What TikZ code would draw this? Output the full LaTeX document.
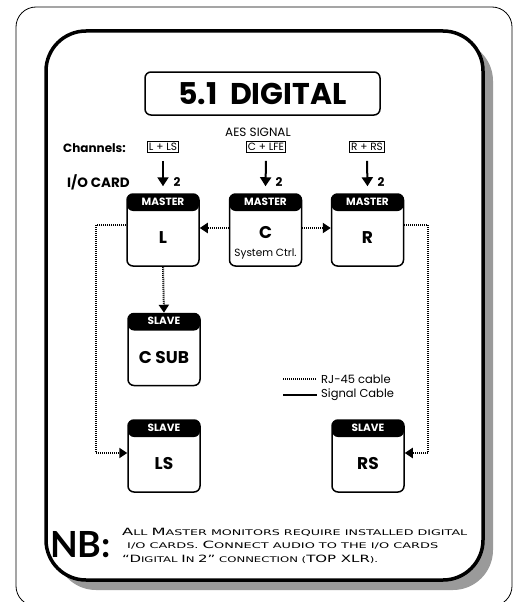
\documentclass[tikz,border=0pt]{standalone}
\usepackage{fontspec}
\usepackage{graphicx}
\setmainfont{Poppins}
\newfontfamily\nbfont{Lato}
\newfontfamily\capfont{DejaVu Sans}
\usetikzlibrary{arrows.meta,calc}
\definecolor{shadowgray}{HTML}{9A9A9A}
\newcommand{\BC}[1]{{\fontsize{10}{10}\selectfont #1}}
\begin{document}
\begin{tikzpicture}[x=1pt,y=-1pt,
  mbox/.style={draw, line width=1.5pt, rounded corners=6pt, minimum width=72pt, minimum height=72pt, inner sep=0pt,
    path picture={\fill[black] (path picture bounding box.north west) rectangle ([yshift=-17pt]path picture bounding box.north east);}},
  htxt/.style={text=white, font=\bfseries\fontsize{10.5}{11}\selectfont, inner sep=0pt},
  btxt/.style={font=\bfseries\fontsize{17}{18}\selectfont, inner sep=0pt},
  chbox/.style={draw, line width=1.1pt, inner sep=1.5pt, font=\fontsize{10.5}{11}\selectfont},
  sig/.style={line width=2pt, -{Triangle[length=9pt,width=11pt]}},
  rj/.style={line width=2pt, dash pattern=on 1pt off 1pt, -{Triangle[length=8pt,width=10pt]}},
  lbl/.style={font=\bfseries\fontsize{12}{13}\selectfont, inner sep=0pt},
  capline/.style={anchor=base west, inner sep=0pt, font=\capfont\fontsize{7.8}{8}\selectfont}
]
\useasboundingbox (0,0) rectangle (519,602);
% outer frame
\draw[line width=0.8pt, rounded corners=20pt] (16,7) rectangle (512,606);
% shadow and inner frame
\fill[shadowgray, rounded corners=40pt] (56,41) rectangle (493,590);
\draw[line width=3.5pt, fill=white, rounded corners=40pt] (46,31) rectangle (483,580);

% title
\node[draw, line width=1.5pt, rounded corners=6pt, minimum width=235pt, minimum height=43pt, inner sep=0pt] (title) at (262.5,93.5)
  {\fontsize{30}{32}\selectfont\bfseries 5.1\hspace{6pt} DIGITAL};
\node[inner sep=0pt, font=\fontsize{12}{12}\selectfont] (aes) at (258,132) {AES SIGNAL};

% channels
\node[lbl, anchor=west] (chan) at (63,148) {Channels:};
\node[chbox] (chL) at (163,147) {L + LS};
\node[chbox] (chC) at (266,147) {C + LFE};
\node[chbox] (chR) at (367,147) {R + RS};
\node[lbl, anchor=west, font=\bfseries\fontsize{13.5}{14}\selectfont] (io) at (67,182) {I/O CARD};

% master boxes
\node[mbox] (L) at (163,230) {};
\node[mbox] (C) at (265.5,230) {};
\node[mbox] (R) at (367.5,230) {};
\node[htxt] (Lh) at ([yshift=-8.5pt]L.north) {MASTER};
\node[htxt] (Ch) at ([yshift=-8.5pt]C.north) {MASTER};
\node[htxt] (Rh) at ([yshift=-8.5pt]R.north) {MASTER};
\node[btxt] (Lt) at ([yshift=-8pt]L.center) {L};
\node[btxt] (Ct) at ([yshift=-3pt]C.center) {C};
\node[inner sep=0pt, font=\fontsize{10.5}{11}\selectfont] (Cs) at ([yshift=-24pt]C.center) {System Ctrl.};
\node[btxt] (Rt) at ([yshift=-8pt]R.center) {R};

% slave boxes
\node[mbox] (S) at (164,349.5) {};
\node[mbox] (LS) at (164,456) {};
\node[mbox] (RS) at (368,456) {};
\node[htxt] (Sh) at ([yshift=-8.5pt]S.north) {SLAVE};
\node[htxt] (LSh) at ([yshift=-8.5pt]LS.north) {SLAVE};
\node[htxt] (RSh) at ([yshift=-8.5pt]RS.north) {SLAVE};
\node[btxt] (St) at ([yshift=-8pt]S.center) {C SUB};
\node[btxt] (LSt) at ([yshift=-8pt]LS.center) {LS};
\node[btxt] (RSt) at ([yshift=-8pt]RS.center) {RS};

% signal arrows
\draw[sig] ([yshift=-8pt]chL.south) -- ([yshift=7pt]L.north);
\draw[sig] ([yshift=-8pt]chC.south) -- ([yshift=7pt]C.north);
\draw[sig] ([yshift=-8pt]chR.south) -- ([yshift=7pt]R.north);
\node[lbl] (n1) at (177,182) {2};
\node[lbl] (n2) at (279,182) {2};
\node[lbl] (n3) at (381,182) {2};

% RJ-45 connections
\draw[rj] ([yshift=2pt]C.west) -- ([yshift=2pt]L.east);
\draw[rj] ([yshift=2pt]C.east) -- ([yshift=2pt]R.west);
\draw[rj] (L.south) -- (S.north);
\draw[rj] ([yshift=5pt]L.west) -- ++(-30,0) |- ([yshift=3pt]LS.west);
\draw[rj] ([yshift=5pt]R.east) -- ++(24,0) |- ([yshift=3pt]RS.east);

% legend
\coordinate (lg1a) at (283,379);
\coordinate (lg1b) at (317,379);
\coordinate (lg2a) at (283,395);
\coordinate (lg2b) at (317,395);
\draw[line width=1.5pt, dash pattern=on 1pt off 1pt] (lg1a) -- (lg1b);
\draw[line width=1.5pt] (lg2a) -- (lg2b);
\node[anchor=west, inner sep=0pt, font=\fontsize{11.5}{12}\selectfont] (lgt1) at (321,379) {RJ-45 cable};
\node[anchor=west, inner sep=0pt, font=\fontsize{11.5}{12}\selectfont] (lgt2) at (321,395) {Signal Cable};

% note
\node[anchor=west, inner sep=0pt, font=\nbfont\bfseries\fontsize{36}{36}\selectfont] (nb) at (50,545) {NB:};
\node[capline] (c1) at (122,535) {\resizebox{345pt}{\height}{\BC{A}LL \BC{M}ASTER MONITORS REQUIRE INSTALLED DIGITAL}};
\node[capline] (c2) at (127,548.5) {\resizebox{311pt}{\height}{I/O CARDS. \BC{C}ONNECT AUDIO TO THE I/O CARDS}};
\node[capline] (c3) at (122,562) {\resizebox{256pt}{\height}{\BC{“D}IGITAL \BC{I}N \BC{2”} CONNECTION (\BC{TOP XLR}).}};
\end{tikzpicture}
\end{document}
